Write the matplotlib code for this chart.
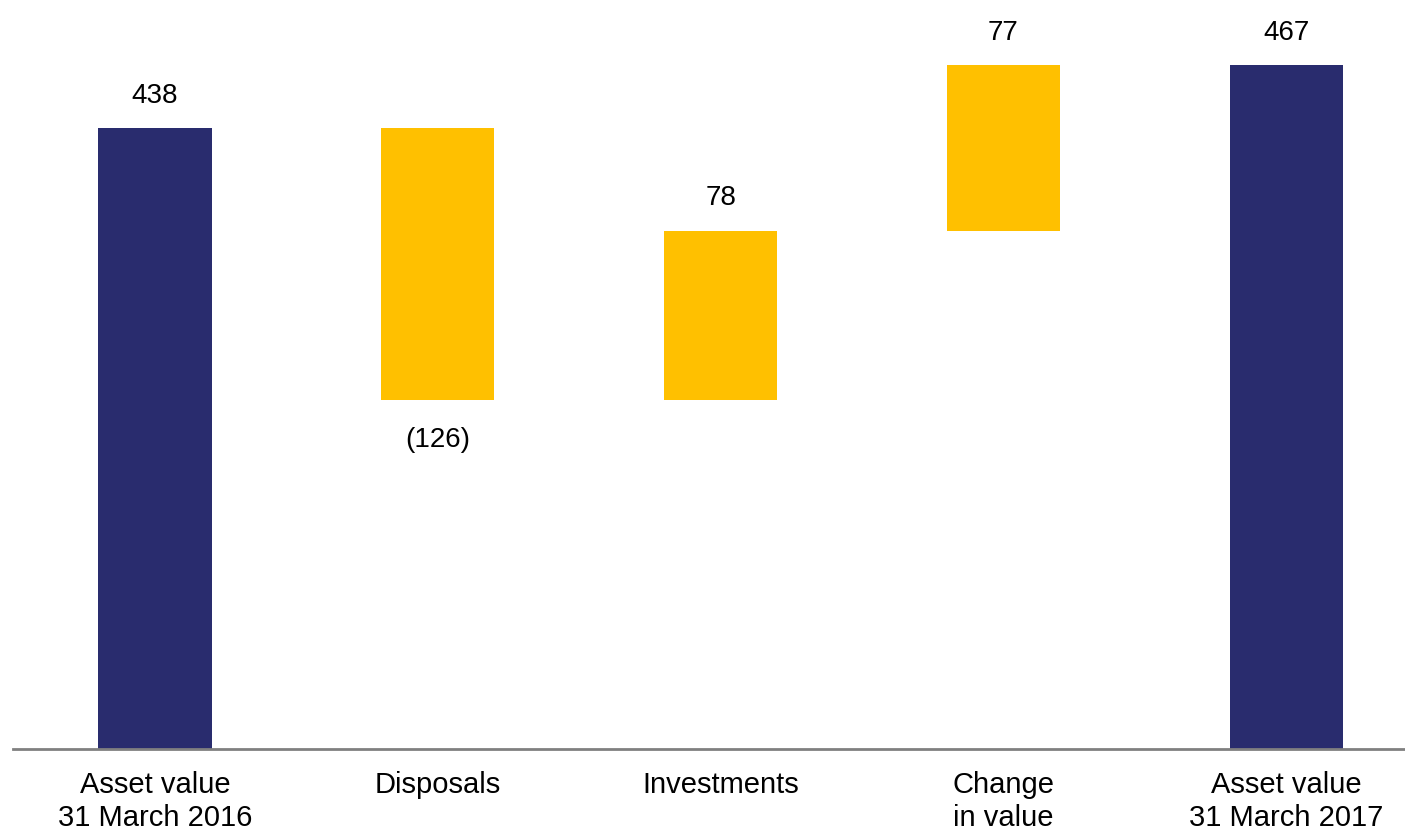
import matplotlib
matplotlib.use("Agg")
import matplotlib.pyplot as plt

plt.rcParams['font.family'] = ['Liberation Sans', 'DejaVu Sans']

categories = ["Asset value\n31 March 2016", "Disposals", "Investments",
              "Change\nin value", "Asset value\n31 March 2017"]
changes = [438, -126, 78, 77, 467]
is_total = [True, False, False, False, True]
labels = ["438", "(126)", "78", "77", "467"]

navy = "#292C6E"
gold = "#FFC000"

fig = plt.figure(figsize=(14.05, 8.33), dpi=100)
ax = fig.add_axes([13 / 1405, 1 - 749 / 833, 1 - 13 / 1405, 749 / 833])

running = 0
for i, (v, tot) in enumerate(zip(changes, is_total)):
    if tot:
        bottom, height = 0, v
        running = v
        color = navy
    else:
        bottom = running if v > 0 else running + v
        height = abs(v)
        running += v
        color = gold
    ax.bar(i, height, bottom=bottom, width=0.4, color=color, zorder=2)
    if v < 0:
        ax.annotate(labels[i], (i, bottom), xytext=(0, -29), textcoords="offset points",
                    ha="center", va="center", fontsize=20)
    else:
        ax.annotate(labels[i], (i, bottom + height), xytext=(0, 23 if i != 2 else 24),
                    textcoords="offset points", ha="center", va="center", fontsize=20)

ax.set_xlim(-0.502, 4.42)
ax.set_ylim(150.4, 497.1)
for s in ["top", "right", "left"]:
    ax.spines[s].set_visible(False)
ax.spines["bottom"].set_color("#808080")
ax.spines["bottom"].set_linewidth(2)
ax.set_yticks([])
ax.set_xticks(range(len(categories)))
ax.set_xticklabels(categories, fontsize=21, linespacing=1.22)
ax.tick_params(axis="x", length=0, pad=16)

fig.savefig("out.png", dpi=100)
